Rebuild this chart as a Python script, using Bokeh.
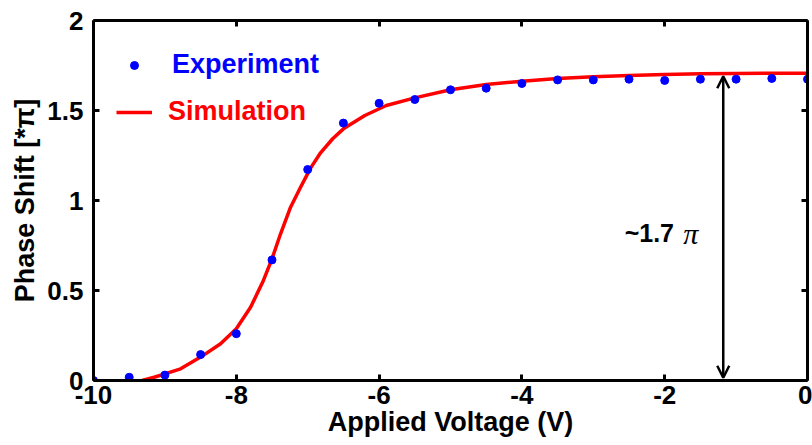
from bokeh.plotting import figure
from bokeh.models import (Range1d, LinearAxis, FixedTicker, CustomJSTickFormatter,
                          Legend, LegendItem, Label, Arrow, OpenHead)
from bokeh.embed import file_html
from bokeh.resources import INLINE

# ---- data ----
exp_voltage = [-10, -9.5, -9, -8.5, -8, -7.5, -7, -6.5, -6, -5.5, -5, -4.5, -4,
               -3.5, -3, -2.5, -2, -1.5, -1, -0.5, 0]
exp_phase = [0.0, 0.018, 0.03, 0.144, 0.26, 0.67, 1.172, 1.43, 1.54, 1.561, 1.615,
             1.624, 1.65, 1.67, 1.67, 1.674, 1.667, 1.674, 1.674, 1.678, 1.674]

sim_voltage = [-9.32, -9.15, -9.0, -8.78, -8.5, -8.22, -8.0, -7.8, -7.62, -7.5, -7.38,
               -7.24, -7.1, -6.96, -6.82, -6.65, -6.5, -6.2, -5.9, -5.5, -5.0, -4.5,
               -4.0, -3.5, -3.0, -2.5, -2.0, -1.5, -1.0, -0.5, 0.0]
sim_phase = [0.0, 0.018, 0.037, 0.065, 0.13, 0.204, 0.287, 0.407, 0.556, 0.676, 0.815,
             0.963, 1.074, 1.18, 1.265, 1.343, 1.398, 1.472, 1.528, 1.57, 1.615, 1.645,
             1.663, 1.678, 1.688, 1.695, 1.700, 1.704, 1.706, 1.707, 1.707]

x_ticks = [-10, -8, -6, -4, -2, 0]
y_ticks = [0, 0.5, 1, 1.5, 2]

arrow_x = -1.18
arrow_y0, arrow_y1 = 0.015, 1.69
annot_text = "~1.7"
annot_pi = "π"

FONT = "Liberation Sans"

p = figure(frame_width=714, frame_height=360, output_backend="svg", toolbar_location=None,
           x_range=Range1d(-10, 0), y_range=Range1d(0, 2),
           min_border_left=93, min_border_right=5, min_border_top=20, min_border_bottom=65)
p.xgrid.visible = False
p.ygrid.visible = False
p.outline_line_color = None
p.background_fill_color = "white"

fmt = CustomJSTickFormatter(code="return tick.toString();")

def style_axis(ax, ticks, show_labels):
    ax.ticker = FixedTicker(ticks=ticks)
    ax.formatter = fmt
    ax.axis_line_width = 3
    ax.axis_line_color = "black"
    ax.major_tick_in = 6
    ax.major_tick_out = 0
    ax.major_tick_line_width = 3
    ax.minor_tick_line_color = None
    ax.major_label_text_font = FONT
    ax.major_label_text_font_style = "bold"
    ax.major_label_text_font_size = "26px" if show_labels else "0px"
    ax.major_label_text_color = "black"
    ax.axis_label_text_font = FONT
    ax.axis_label_text_font_style = "bold"
    ax.axis_label_text_font_size = "27px"
    ax.axis_label_text_color = "black"

style_axis(p.xaxis[0], x_ticks, True)
style_axis(p.yaxis[0], y_ticks, True)
p.xaxis[0].axis_label = "Applied Voltage (V)"
p.xaxis[0].major_label_standoff = 5
p.xaxis[0].axis_label_standoff = 0
p.yaxis[0].axis_label = "Phase Shift [*π]"
p.yaxis[0].major_label_standoff = 10
p.yaxis[0].axis_label_standoff = 4

top_ax = LinearAxis()
style_axis(top_ax, x_ticks, False)
top_ax.major_label_standoff = 0
right_ax = LinearAxis()
style_axis(right_ax, y_ticks, False)
right_ax.major_label_standoff = 0
p.add_layout(top_ax, "above")
p.add_layout(right_ax, "right")

sim_r = p.line(sim_voltage, sim_phase, line_color="red", line_width=3.5, line_join="round")
exp_r = p.scatter(exp_voltage, exp_phase, size=8, fill_color="#0000ff", line_color="#0000ff")

def make_legend(label, rend, color, loc, standoff):
    lg = Legend(items=[LegendItem(label=label, renderers=[rend])], location=loc,
                background_fill_alpha=0, border_line_color=None, padding=0, margin=0,
                glyph_width=36, glyph_height=20, label_standoff=standoff,
                label_text_font=FONT, label_text_font_style="bold",
                label_text_font_size="27px", label_text_color=color)
    p.add_layout(lg, "center")

make_legend("Experiment", exp_r, "#0000ff", (23, 300), 20)
make_legend("Simulation", sim_r, "red", (23, 253), 16)

p.add_layout(Arrow(x_start=arrow_x, y_start=arrow_y0, x_end=arrow_x, y_end=arrow_y1,
                   line_width=2.5, line_color="black",
                   start=OpenHead(size=12, line_width=2.5, line_color="black"),
                   end=OpenHead(size=12, line_width=2.5, line_color="black")))

p.add_layout(Label(x=-1.87, y=0.817, text=annot_text, text_align="right",
                   text_baseline="alphabetic", text_font=FONT, text_font_style="bold",
                   text_font_size="25px", text_color="black"))
p.add_layout(Label(x=-1.74, y=0.817, text=annot_pi, text_align="left",
                   text_baseline="alphabetic", text_font="Liberation Serif", text_font_style="italic",
                   text_font_size="30px", text_color="black"))

open("out.html", "w").write(file_html(p, INLINE))
